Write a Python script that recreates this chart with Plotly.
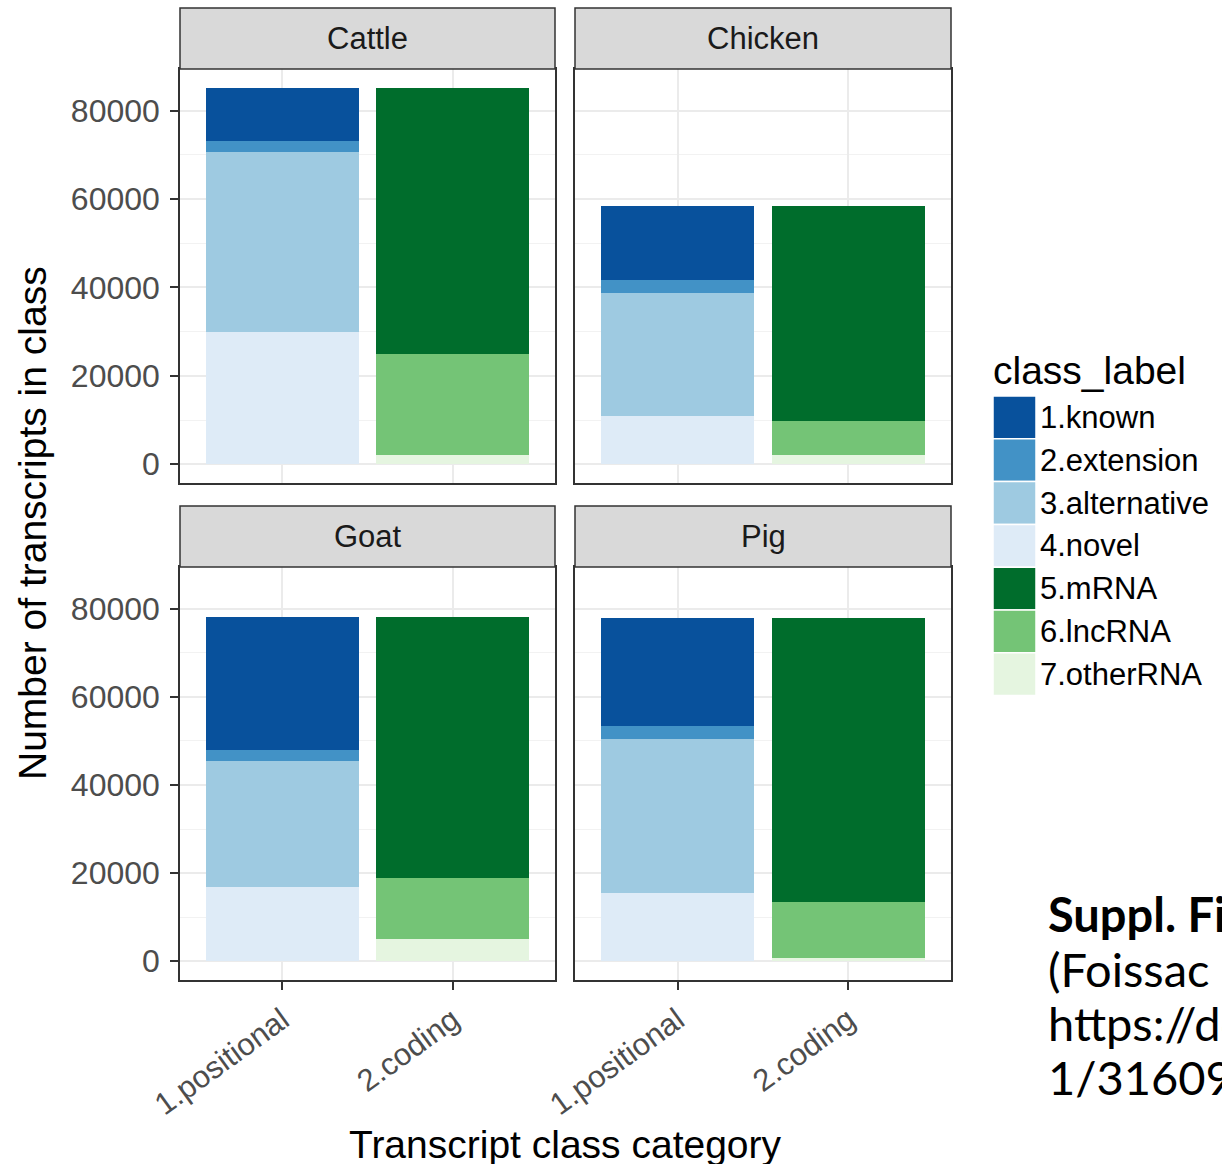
import plotly.graph_objects as go

species = ["Cattle", "Chicken", "Goat", "Pig"]
categories = ["1.positional", "2.coding"]
class_labels = ["1.known", "2.extension", "3.alternative", "4.novel", "5.mRNA", "6.lncRNA", "7.otherRNA"]
class_colors = ["#08519C", "#4292C6", "#9ECAE1", "#DEEBF7", "#006D2C", "#74C476", "#E5F5E0"]

known = [12100, 16700, 30200, 24500]
extension = [2500, 2850, 2500, 2850]
alternative = [40600, 28000, 28600, 35100]
novel = [30000, 10800, 16900, 15400]
mRNA = [60200, 48500, 59300, 64500]
lncRNA = [22900, 7750, 13800, 12650]
otherRNA = [2100, 2100, 5100, 700]

y_ticks = [0, 20000, 40000, 60000, 80000]
y_ticktext = ["0", "20000", "40000", "60000", "80000"]

caption_lines = ["<b>Suppl. Figure</b>", "(Foissac et al.", "https://doi.org/10.110", "1/316091)"]

W, H = 1222, 1164
FONT = "Liberation Sans, Arial, sans-serif"

cols = [(180, 555), (575, 951)]
rows = [(69, 483), (567, 980)]
strip_h = 61

def px(x):
    return x / W

def py(y):
    return 1 - y / H

fig = go.Figure()

series = {
    "1.known": (known, 0),
    "2.extension": (extension, 0),
    "3.alternative": (alternative, 0),
    "4.novel": (novel, 0),
    "5.mRNA": (mRNA, 1),
    "6.lncRNA": (lncRNA, 1),
    "7.otherRNA": (otherRNA, 1),
}
stack_order = ["7.otherRNA", "6.lncRNA", "5.mRNA", "4.novel", "3.alternative", "2.extension", "1.known"]

ymax = max(max(a + b + c + d for a, b, c, d in zip(known, extension, alternative, novel)),
           max(a + b + c for a, b, c in zip(mRNA, lncRNA, otherRNA)))
yrange = [-0.05 * ymax, 1.05 * ymax]

for i, sp in enumerate(species):
    ax = "" if i == 0 else str(i + 1)
    for lab in stack_order:
        vals, cat_idx = series[lab]
        yv = [None, None]
        yv[cat_idx] = vals[i]
        fig.add_trace(go.Bar(
            x=categories, y=yv, name=lab,
            marker=dict(color=class_colors[class_labels.index(lab)], line=dict(width=0)),
            width=0.9, showlegend=False,
            xaxis="x" + ax, yaxis="y" + ax,
        ))

layout = dict(
    width=W, height=H, barmode="stack",
    margin=dict(l=0, r=0, t=0, b=0, autoexpand=False),
    paper_bgcolor="white", plot_bgcolor="white",
    font=dict(family=FONT, color="#4D4D4D"),
)

shapes = []
annotations = []
for i, sp in enumerate(species):
    r, c = divmod(i, 2)
    ax = "" if i == 0 else str(i + 1)
    x0, x1 = cols[c]
    y0, y1 = rows[r]
    layout["xaxis" + ax] = dict(
        domain=[px(x0), px(x1)], anchor="y" + ax, automargin=False,
        type="category", range=[-0.6, 1.6],
        showgrid=True, gridcolor="#EBEBEB", gridwidth=1.5,
        showline=True, mirror=True, linecolor="#333333", linewidth=1.5,
        ticks="outside" if r == 1 else "", ticklen=8, tickcolor="#333333", tickwidth=1.5,
        showticklabels=(r == 1), tickangle=-36,
        tickfont=dict(size=31, color="#4D4D4D", family=FONT),
        zeroline=False,
    )
    layout["yaxis" + ax] = dict(
        domain=[py(y1), py(y0)], anchor="x" + ax, automargin=False,
        range=yrange, tickvals=y_ticks, ticktext=y_ticktext,
        showgrid=True, gridcolor="#EBEBEB", gridwidth=1.5,
        minor=dict(dtick=10000, tick0=0, showgrid=True, gridcolor="#F2F2F2", gridwidth=1),
        showline=True, mirror=True, linecolor="#333333", linewidth=1.5,
        ticks="outside" if c == 0 else "", ticklen=8, tickcolor="#333333", tickwidth=1.5,
        showticklabels=(c == 0), ticklabelstandoff=4,
        tickfont=dict(size=32, color="#4D4D4D", family=FONT),
        zeroline=False,
    )
    shapes.append(dict(type="rect", xref="paper", yref="paper",
                       x0=px(x0), x1=px(x1), y0=py(y0), y1=py(y0 - strip_h),
                       fillcolor="#D9D9D9", line=dict(color="#333333", width=1.5), layer="above"))
    annotations.append(dict(text=sp, xref="paper", yref="paper",
                            x=px((x0 + x1) / 2), y=py(y0 - strip_h / 2),
                            showarrow=False, xanchor="center", yanchor="middle",
                            font=dict(size=31, color="#1A1A1A", family=FONT)))

annotations.append(dict(text="Transcript class category", xref="paper", yref="paper",
                        x=px(565), y=py(1144), showarrow=False, xanchor="center", yanchor="middle",
                        font=dict(size=39, color="black", family=FONT)))
annotations.append(dict(text="Number of transcripts in class", xref="paper", yref="paper",
                        x=px(32), y=py(523), showarrow=False, xanchor="center", yanchor="middle",
                        textangle=-90, font=dict(size=39, color="black", family=FONT)))

annotations.append(dict(text="class_label", xref="paper", yref="paper",
                        x=px(991), y=py(370), showarrow=False, xanchor="left", yanchor="middle",
                        font=dict(size=39, color="black", family=FONT)))
key_top = 396
key_step = 42.8
for k, (lab, col) in enumerate(zip(class_labels, class_colors)):
    t = key_top + k * key_step
    shapes.append(dict(type="rect", xref="paper", yref="paper",
                       x0=px(993), x1=px(1036), y0=py(t + key_step), y1=py(t),
                       fillcolor=col, line=dict(color="white", width=1.5)))
    annotations.append(dict(text=lab, xref="paper", yref="paper",
                            x=px(1038), y=py(t + key_step / 2), showarrow=False,
                            xanchor="left", yanchor="middle",
                            font=dict(size=31, color="black", family=FONT)))

cap_y = [914, 969, 1023, 1077]
for line, yc in zip(caption_lines, cap_y):
    annotations.append(dict(
        text=line, xref="paper", yref="paper", x=px(1046), y=py(yc), showarrow=False,
        xanchor="left", yanchor="middle", align="left",
        font=dict(size=47, color="black", family="Lato, Open Sans, sans-serif")))

layout["shapes"] = shapes
layout["annotations"] = annotations
fig.update_layout(**layout)
fig.write_html(
    "out.html",
    config={"displayModeBar": False},
    post_script="document.body.style.margin='0';document.body.style.overflow='hidden';",
)
